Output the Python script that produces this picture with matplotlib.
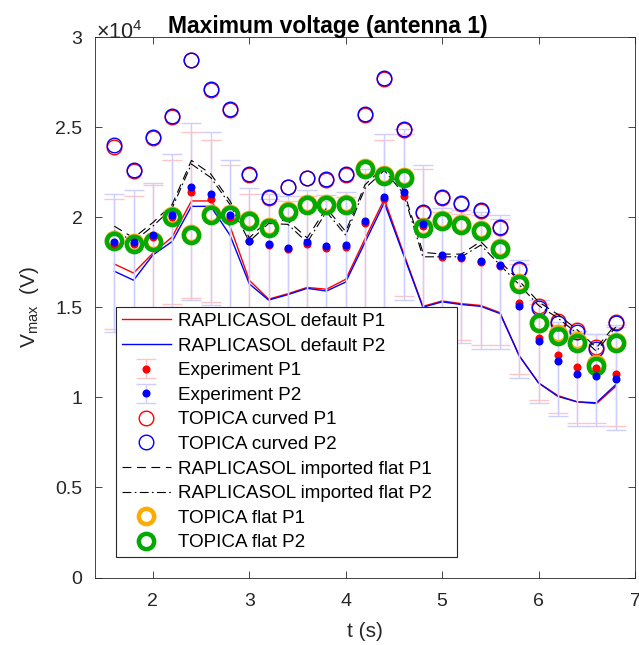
import matplotlib
matplotlib.use('Agg')
import matplotlib.pyplot as plt
from matplotlib.ticker import FuncFormatter

plt.rcParams['font.family'] = ['Liberation Sans', 'DejaVu Sans']
plt.rcParams['mathtext.fontset'] = 'custom'
plt.rcParams['mathtext.rm'] = 'Liberation Sans'
plt.rcParams['mathtext.it'] = 'Liberation Sans:italic'

# time points (s)
t = [1.6, 1.8, 2.0, 2.2, 2.4, 2.6, 2.8, 3.0, 3.2, 3.4, 3.6, 3.8, 4.0, 4.2,
     4.4, 4.6, 4.8, 5.0, 5.2, 5.4, 5.6, 5.8, 6.0, 6.2, 6.4, 6.6, 6.8]

# RAPLICASOL default (V)
rap_p1 = [17400, 16900, 18000, 18900, 20900, 20900, 19500, 16500, 15450, 15750,
          16100, 16000, 16550, 18800, 21000, 18000, 15050, 15350, 15200, 15100,
          14700, 12300, 10800, 10100, 9750, 9650, 10600]
rap_p2 = [17000, 16500, 17900, 18650, 20600, 20600, 19000, 16300, 15400, 15700,
          16050, 15900, 16400, 18600, 20800, 17900, 15000, 15300, 15150, 15050,
          14650, 12300, 10800, 10050, 9750, 9700, 10700]

# experiment P1 / P2 with lower and upper limits (V)
exp_p1 = [18500, 18500, 18900, 20000, 21400, 21000, 20000, 18650, 18450, 18250,
          18500, 18300, 18350, 19700, 21000, 21200, 19500, 17800, 17750, 17500,
          17300, 15250, 13300, 12350, 11700, 11650, 11300]
exp_p1_lo = [13800, 13800, 14200, 15200, 15500, 15300, 14700, 14200, 14000, 13800,
             14000, 13900, 13900, 14700, 14700, 15600, 14200, 13400, 13200, 12900,
             12900, 11300, 9850, 9150, 8600, 8550, 8400]
exp_p1_hi = [21000, 21200, 21800, 23200, 24700, 24300, 22900, 21300, 21000, 20900,
             21200, 20900, 21100, 22400, 24300, 24600, 22700, 20300, 20200, 20100,
             19900, 17400, 15200, 14000, 13700, 13500, 13900]
exp_p2 = [18600, 18600, 19000, 20100, 21700, 21300, 20100, 18700, 18500, 18300,
          18600, 18400, 18450, 19800, 21100, 21400, 19600, 17900, 17800, 17550,
          17350, 15050, 13100, 12000, 11300, 11200, 11000]
exp_p2_lo = [13600, 13600, 14000, 15000, 15400, 15100, 14500, 14000, 13800, 13600,
             13800, 13700, 13700, 14500, 14500, 15400, 14000, 13200, 13000, 12700,
             12700, 11050, 9680, 8970, 8400, 8400, 8200]
exp_p2_hi = [21300, 21500, 21900, 23500, 25200, 24700, 23200, 21600, 21300, 21200,
             21500, 21250, 21400, 22700, 24600, 24900, 22900, 20500, 20400, 20300,
             20100, 17600, 15400, 14200, 13700, 13500, 14000]

# TOPICA curved (V)
top_c_p1 = [23900, 22550, 24400, 25550, 28700, 27050, 25950, 22350, 21050, 21650,
            22150, 22050, 22350, 25650, 27650, 24850, 20250, 21050, 20750, 20350,
            19400, 17050, 15050, 14250, 13750, 12800, 14200]
top_c_p2 = [24000, 22600, 24450, 25600, 28750, 27100, 26000, 22400, 21100, 21700,
            22200, 22100, 22400, 25700, 27700, 24900, 20300, 21100, 20800, 20400,
            19450, 17100, 14950, 14100, 13600, 12700, 14100]

# RAPLICASOL imported flat (V)
imp_p1 = [19500, 18850, 19700, 20700, 23150, 22400, 20900, 18850, 19850, 19800,
          18850, 20500, 19200, 21800, 22800, 21500, 18050, 17950, 17950, 18650,
          17550, 16450, 15300, 14600, 13750, 12750, 14050]
imp_p2 = [19250, 18650, 19500, 20500, 22950, 22200, 20700, 18650, 19650, 19600,
          18600, 20300, 19000, 21600, 22600, 21300, 17800, 17800, 17800, 18450,
          17350, 16250, 15100, 14400, 13550, 12550, 13900]

# TOPICA flat (V)
top_f_p1 = [18750, 18550, 18650, 20050, 19050, 20150, 20150, 19850, 19450, 20350,
            20750, 20750, 20750, 22750, 22350, 22250, 19450, 19850, 19600, 19300,
            18300, 16350, 14150, 13500, 13100, 11850, 13050]
top_f_p2 = [18700, 18500, 18600, 20000, 19000, 20100, 20100, 19800, 19400, 20300,
            20700, 20700, 20700, 22700, 22300, 22200, 19400, 19800, 19550, 19250,
            18250, 16300, 14100, 13400, 13000, 11750, 13000]

err_p1_lo = [v - lo for v, lo in zip(exp_p1, exp_p1_lo)]
err_p1_hi = [hi - v for v, hi in zip(exp_p1, exp_p1_hi)]
err_p2_lo = [v - lo for v, lo in zip(exp_p2, exp_p2_lo)]
err_p2_hi = [hi - v for v, hi in zip(exp_p2, exp_p2_hi)]

fig = plt.figure(figsize=(6.39, 6.45), dpi=100)
ax = fig.add_axes([95 / 639, 1 - 577.5 / 645, 540 / 639, 540.5 / 645])

h1, = ax.plot(t, rap_p1, color='#ff0000', lw=1)
h2, = ax.plot(t, rap_p2, color='#0000ff', lw=1)

h3 = ax.errorbar(t, exp_p1, yerr=[err_p1_lo, err_p1_hi], fmt='o', color='#ff0000',
                 ms=4.8, ecolor='#ffc4c4', elinewidth=1, capsize=7)
h4 = ax.errorbar(t, exp_p2, yerr=[err_p2_lo, err_p2_hi], fmt='o', color='#0000ff',
                 ms=4.8, ecolor='#cfcfff', elinewidth=1, capsize=7)

h5, = ax.plot(t, top_c_p1, 'o', mfc='none', mec='#ff0000', ms=10.5, mew=1)
h6, = ax.plot(t, top_c_p2, 'o', mfc='none', mec='#0000ff', ms=10.5, mew=1)

h7, = ax.plot(t, imp_p1, color='black', lw=0.8, ls=(0, (8, 5)))
h8, = ax.plot(t, imp_p2, color='black', lw=0.8, ls=(0, (8, 3, 1.5, 3)))

h9, = ax.plot(t, top_f_p1, 'o', mfc='none', mec='#ffaa00', ms=11, mew=3.2)
h10, = ax.plot(t, top_f_p2, 'o', mfc='none', mec='#00aa00', ms=11, mew=3.2)

ax.set_xlim(1.4, 7)
ax.set_ylim(0, 30000)
ax.set_xticks([2, 3, 4, 5, 6, 7])
ax.set_yticks([0, 5000, 10000, 15000, 20000, 25000, 30000])
ax.yaxis.set_major_formatter(FuncFormatter(lambda v, p: '%g' % (v / 1e4)))
ax.tick_params(direction='in', top=True, right=True, labelsize=14,
               length=5, width=0.6, colors='#262626')
ax.tick_params(axis='y', pad=9)
ax.tick_params(axis='x', pad=11)
for s in ax.spines.values():
    s.set_color('#262626')
    s.set_linewidth(0.6)

ax.set_xlabel('t (s)', fontsize=15, color='#262626', labelpad=9)
ax.set_ylabel(r'V$_{\mathrm{max}}$  (V)', fontsize=15, color='#262626', labelpad=10)
fig.text(96 / 639, 1 - 39 / 645, r'$\times10^{4}$', fontsize=15.5,
         color='#262626', ha='left', va='baseline')
fig.text(328 / 639, 1 - 26 / 645, 'Maximum voltage (antenna 1)',
         fontsize=16.5, fontweight='bold', ha='center', va='center')

handles = [h1, h2, h3, h4, h5, h6, h7, h8, h9, h10]
labels = ['RAPLICASOL default P1', 'RAPLICASOL default P2',
          'Experiment P1', 'Experiment P2',
          'TOPICA curved P1', 'TOPICA curved P2',
          'RAPLICASOL imported flat P1', 'RAPLICASOL imported flat P2',
          'TOPICA flat P1', 'TOPICA flat P2']
leg = ax.legend(handles, labels, loc='lower left',
                bbox_to_anchor=(0.039, 0.038, 0.631, 0.5), mode='expand',
                borderaxespad=0, fontsize=13.6, handlelength=2.6,
                handletextpad=0.4, labelspacing=0.39, borderpad=0.3,
                fancybox=False, framealpha=1)
leg.get_frame().set_edgecolor('#262626')
leg.get_frame().set_linewidth(0.8)

fig.savefig('out.png', dpi=100)
